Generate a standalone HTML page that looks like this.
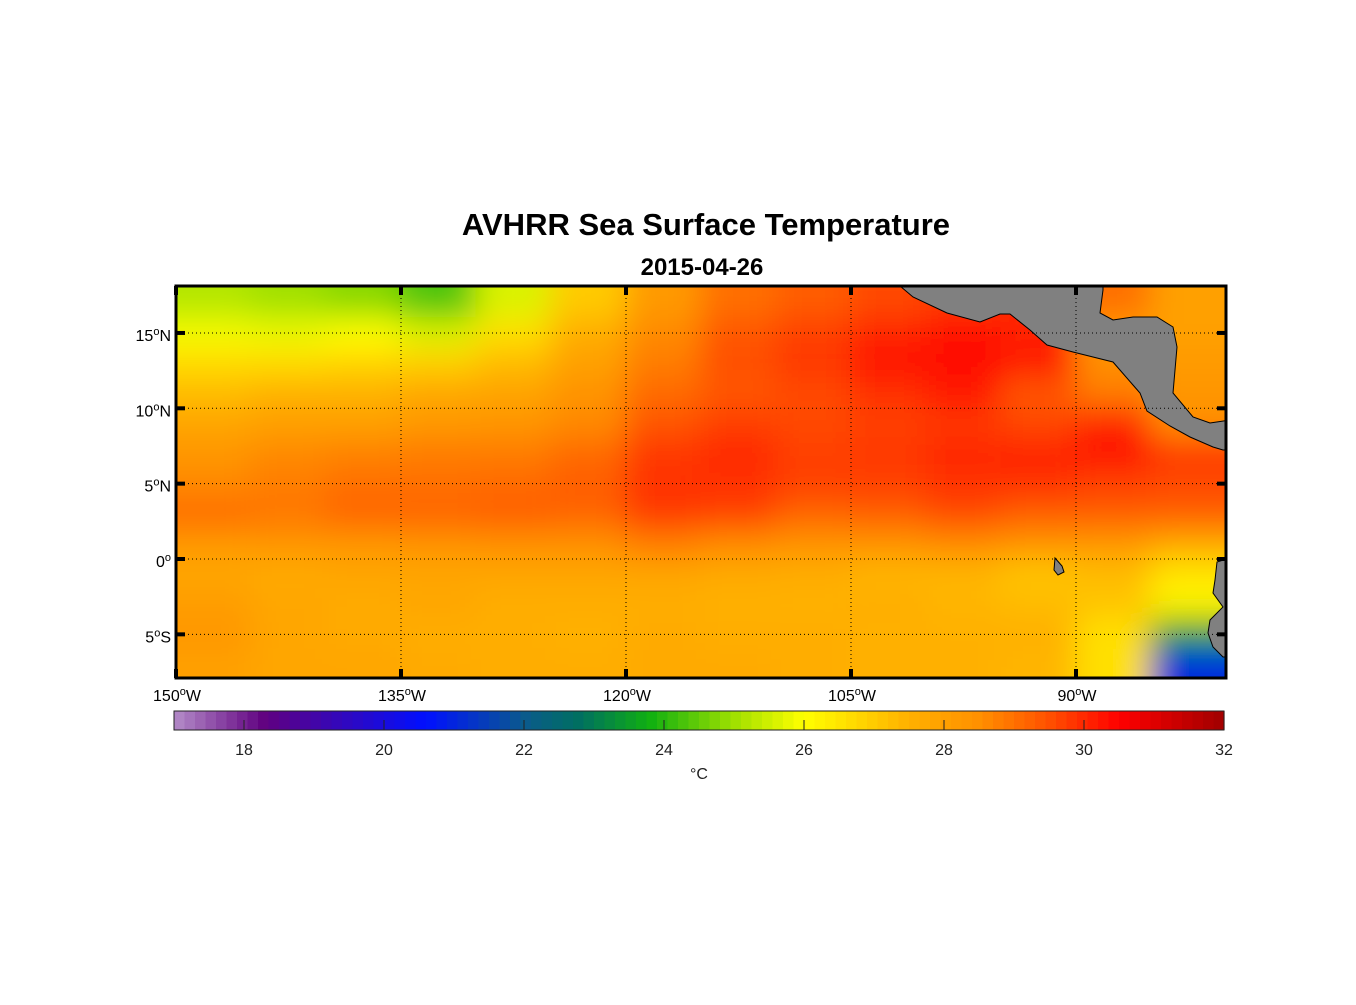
<!DOCTYPE html>
<html><head><meta charset="utf-8"><style>
html,body{margin:0;padding:0;background:#fff;}
svg text{font-family:"Liberation Sans",Arial,sans-serif;}
</style></head><body>
<svg id="chart" width="1356" height="1000" xmlns="http://www.w3.org/2000/svg">
<defs>
<clipPath id="mapclip"><rect x="176" y="286" width="1050" height="392"/></clipPath>
<filter id="smooth" filterUnits="userSpaceOnUse" x="60" y="170" width="1280" height="620"><feGaussianBlur stdDeviation="16"/></filter>
</defs>
<text x="706" y="235" text-anchor="middle" font-size="31" font-weight="bold">AVHRR Sea Surface Temperature</text>
<text x="702" y="275" text-anchor="middle" font-size="24" font-weight="bold">2015-04-26</text>
<g id="map" clip-path="url(#mapclip)">
<g id="cells" filter="url(#smooth)"></g>
<path fill="#808080" stroke="#000" stroke-width="1" d="M900,286 L913,297 L947,313 L980,322 L1000,314 L1010,314 L1030,330 L1047,345 L1073,352 L1097,358 L1113,362 L1133,385 L1140,393 L1147,411 L1170,426 L1190,437 L1213,447 L1223,450 L1230,450 L1230,420 L1210,423 L1193,417 L1173,393 L1177,347 L1173,327 L1157,317 L1133,317 L1113,320 L1100,313 L1103,290 L1103,286 Z"/>
<path fill="#808080" stroke="#000" stroke-width="1" d="M1230,558 L1217,562 L1215,580 L1213,593 L1223,607 L1210,620 L1208,633 L1213,647 L1223,657 L1230,657 Z"/>
<path fill="#808080" stroke="#000" stroke-width="1" d="M1055,558 L1062,566 L1064,572 L1058,575 L1054,570 Z"/>
<g id="grid"></g>
</g>
<rect x="176" y="286" width="1050" height="392" fill="none" stroke="#000" stroke-width="3"/>
<g id="ticks"></g>
<g id="cbar"></g>
<text x="699" y="779" text-anchor="middle" font-size="16" fill="#222">°C</text>
</svg>
<script>
const lonCenters = [-147.5,-142.5,-137.5,-132.5,-127.5,-122.5,-117.5,-112.5,-107.5,-102.5,-97.5,-92.5,-87.5,-82.5];
const latCenters = [17,15,13,11,9,7,5,3,1,-1,-3,-5,-7];
const sst = [
[25.2,25.0,24.8,24.3,25.6,27.0,28.2,29.0,29.3,29.6,29.8,30.0,29.0,28.0],
[25.9,25.8,26.0,25.6,26.6,27.6,28.6,29.4,29.7,30.0,30.3,30.1,28.2,28.0],
[26.7,26.7,26.8,26.9,27.3,28.0,28.8,29.5,29.8,30.3,30.4,30.2,28.5,28.2],
[27.3,27.5,27.5,27.8,27.9,28.4,29.1,29.4,29.6,29.9,30.2,29.4,28.8,28.3],
[27.8,28.0,28.0,28.2,28.3,28.6,29.4,29.7,29.6,29.7,29.8,29.6,30.0,28.5],
[28.3,28.6,28.7,28.8,28.8,29.1,29.8,30.0,29.7,29.8,30.0,30.1,30.3,29.8],
[28.6,28.8,29.0,29.0,29.1,29.3,29.9,29.9,29.7,29.7,29.9,29.9,29.7,29.6],
[29.1,28.9,29.2,29.2,29.3,29.2,29.8,29.7,29.2,29.3,29.6,29.3,29.3,29.3],
[28.2,28.3,28.3,28.4,28.5,28.5,28.8,28.6,28.4,28.4,28.6,28.4,28.3,27.8],
[27.8,27.7,27.8,27.8,27.8,27.8,27.8,27.7,27.6,27.4,27.4,27.1,27.3,26.5],
[28.1,27.8,27.7,27.8,27.6,27.6,27.6,27.5,27.5,27.6,27.4,27.3,27.1,26.2],
[28.3,27.8,27.7,27.6,27.6,27.5,27.7,27.6,27.6,27.5,27.5,27.5,26.6,23.5],
[28.0,27.8,27.8,27.7,27.6,27.6,27.7,27.7,27.6,27.5,27.5,27.4,26.6,21.0]
];
const lonTicks = [-150,-135,-120,-105,-90];
const lonTickLabels = ['150','135','120','105','90'];
const latTicks = [15,10,5,0,-5];
const latTickLabels = ['15','10','5','0','5'];
const latTickSuffix = ['N','N','N','',"S"];
const cbarTicks = [18,20,22,24,26,28,30,32];

const NS='http://www.w3.org/2000/svg';
const X0=176,X1=1226,LON0=-150,LON1=-80;
const Y0=559,PXLAT=15.07;
const x = lon => X0+(lon-LON0)/(LON1-LON0)*(X1-X0);
const y = lat => Y0-lat*PXLAT;
const CB0=174,CB1=1224,CV0=17,CV1=32;
const cx = v => CB0+(v-CV0)/(CV1-CV0)*(CB1-CB0);
const stops=[[17,[180,140,200]],[18.3,[96,0,128]],[20.6,[0,16,255]],[22,[10,90,140]],[22.8,[0,112,96]],[23.8,[16,176,16]],[25,[160,224,0]],[26,[255,255,0]],[26.6,[255,224,0]],[27.5,[255,176,0]],[28.5,[255,144,0]],[29.5,[255,80,0]],[30.5,[255,0,0]],[32,[160,0,0]]];
function color(v){
  if(v<=stops[0][0]) return 'rgb('+stops[0][1]+')';
  for(let i=1;i<stops.length;i++){
    if(v<=stops[i][0]){const a=stops[i-1],b=stops[i];const t=(v-a[0])/(b[0]-a[0]);
      return 'rgb('+a[1].map((c,k)=>Math.round(c+(b[1][k]-c)*t)).join(',')+')';}
  }
  return 'rgb('+stops[stops.length-1][1]+')';
}
function mk(tag,attrs,parent){const e=document.createElementNS(NS,tag);for(const k in attrs)e.setAttribute(k,attrs[k]);parent.appendChild(e);return e;}

const cells=document.getElementById('cells');
const PAD=80;
latCenters.forEach((lat,r)=>{lonCenters.forEach((lon,c)=>{
  let x0=x(lon-2.5)-0.5, x1=x(lon+2.5)+0.5, y0=y(lat+1)-0.5, y1=y(lat-1)+0.5;
  if(c===0) x0-=PAD;
  if(c===lonCenters.length-1) x1+=PAD;
  if(r===0) y0-=PAD;
  if(r===latCenters.length-1) y1+=PAD;
  const e=mk('rect',{x:x0,y:y0,width:x1-x0,height:y1-y0,fill:color(sst[r][c])},cells);
  
  
});});

const grid=document.getElementById('grid');
lonTicks.slice(1).forEach(l=>{const e=mk('line',{x1:x(l),x2:x(l),y1:286,y2:678,stroke:'#000','stroke-width':1,'stroke-dasharray':'1,3'},grid);
  });
latTicks.forEach(l=>{const e=mk('line',{x1:176,x2:1226,y1:y(l),y2:y(l),stroke:'#000','stroke-width':1,'stroke-dasharray':'1,3'},grid);
  });

const ticks=document.getElementById('ticks');
lonTicks.forEach((l,i)=>{
  [[286,295],[678,669]].forEach(p=>{const e=mk('line',{x1:x(l),x2:x(l),y1:p[0],y2:p[1],stroke:'#000','stroke-width':4},ticks);
    });
  const t=mk('text',{x:x(l)+1,y:701,'text-anchor':'middle','font-size':16},ticks);
  
  t.innerHTML=lonTickLabels[i]+'<tspan dy="-6" font-size="11">o</tspan><tspan dy="6">W</tspan>';
});
latTicks.forEach((l,i)=>{
  [[176,185],[1226,1217]].forEach(p=>{const e=mk('line',{x1:p[0],x2:p[1],y1:y(l),y2:y(l),stroke:'#000','stroke-width':4},ticks);
    });
  const t=mk('text',{x:171,y:y(l)+8,'text-anchor':'end','font-size':16},ticks);
  
  t.innerHTML=latTickLabels[i]+'<tspan dy="-6" font-size="11">o</tspan><tspan dy="6">'+latTickSuffix[i]+'</tspan>';
});

const cbar=document.getElementById('cbar');
const nSteps=100;
for(let i=0;i<nSteps;i++){
  const v0=CV0+(CV1-CV0)*i/nSteps, v1=CV0+(CV1-CV0)*(i+1)/nSteps;
  const e=mk('rect',{x:cx(v0),y:711,width:cx(v1)-cx(v0)+0.6,height:19,fill:color((v0+v1)/2)},cbar);
  
}
const fr=mk('rect',{x:CB0,y:711,width:CB1-CB0,height:19,fill:'none',stroke:'#222','stroke-width':1},cbar);

cbarTicks.forEach(v=>{
  const l=mk('line',{x1:cx(v),x2:cx(v),y1:720,y2:730,stroke:'#222','stroke-width':1},cbar);
  
  const t=mk('text',{x:cx(v),y:755,'text-anchor':'middle','font-size':16,fill:'#222'},cbar);
  
  t.textContent=v;
});
</script>
</body></html>
